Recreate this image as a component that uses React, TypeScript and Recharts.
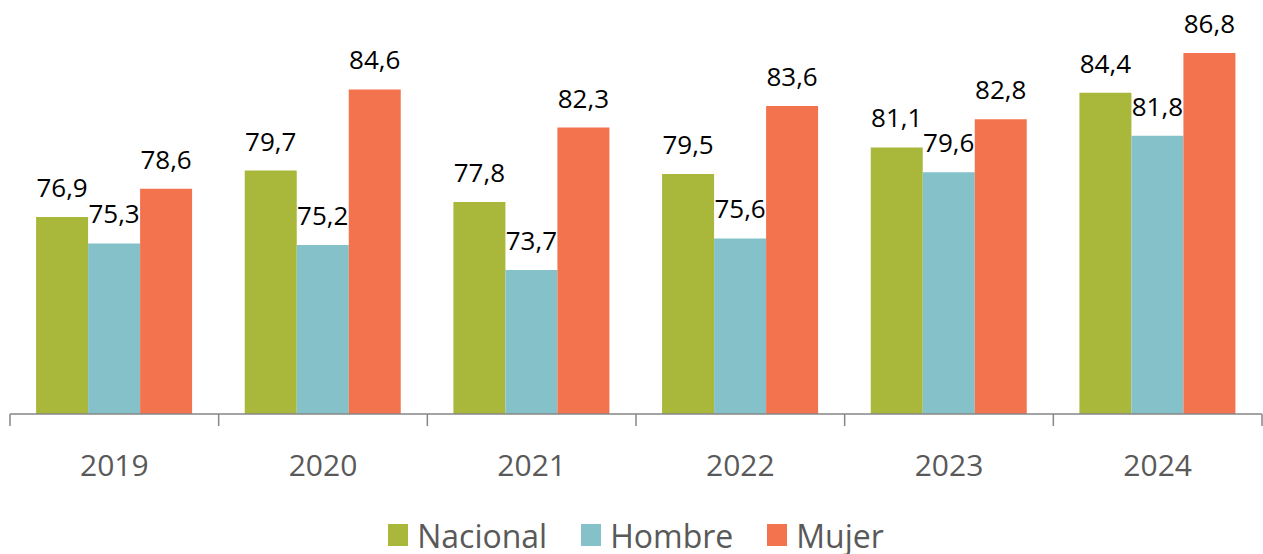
import React from "react";
import { BarChart, Bar, XAxis, YAxis, LabelList, Legend } from "recharts";

const years = ["2019", "2020", "2021", "2022", "2023", "2024"];
const nacional = [76.9, 79.7, 77.8, 79.5, 81.1, 84.4];
const hombre = [75.3, 75.2, 73.7, 75.6, 79.6, 81.8];
const mujer = [78.6, 84.6, 82.3, 83.6, 82.8, 86.8];

const series = [
  { key: "Nacional", values: nacional, color: "#A9B83A" },
  { key: "Hombre", values: hombre, color: "#84C1C8" },
  { key: "Mujer", values: mujer, color: "#F3734F" },
];

const data = years.map((year, i) => {
  const row: any = { year };
  series.forEach((s) => (row[s.key] = s.values[i]));
  return row;
});

const W = 1263;
const H = 554;
const M = { top: 0, right: 1, left: 10, bottom: 0 };
const band = (W - M.left - M.right) / years.length;
const FONT = "'Open Sans', sans-serif";

const fmt = (v: any) => Number(v).toFixed(1).replace(".", ",");

const YearTick = (props: any) => {
  const { x, y, payload, index } = props;
  const left = x - band / 2;
  const right = x + band / 2;
  return (
    <g>
      <line x1={left} x2={left} y1={y} y2={y + 12} stroke="#868686" strokeWidth={1.5} />
      {index === years.length - 1 && (
        <line x1={right} x2={right} y1={y} y2={y + 12} stroke="#868686" strokeWidth={1.5} />
      )}
      <text x={x} y={y + 62} textAnchor="middle" fill="#595959" fontSize={30} fontFamily={FONT}>
        {payload.value}
      </text>
    </g>
  );
};

const LegendBox = () => (
  <div
    style={{
      height: 60,
      display: "flex",
      justifyContent: "center",
      alignItems: "center",
      paddingTop: 22,
      boxSizing: "border-box",
      fontFamily: FONT,
      fontSize: 32,
      color: "#595959",
    }}
  >
    {series.map((s) => (
      <div key={s.key} style={{ display: "flex", alignItems: "center", margin: "0 17px" }}>
        <span style={{ width: 20, height: 22, background: s.color, display: "inline-block", marginRight: 9 }} />
        <span>{s.key}</span>
      </div>
    ))}
  </div>
);

export default function App() {
  return (
    <div style={{ position: "absolute", left: 0, top: 0, background: "#fff" }}>
      <BarChart width={W} height={H} data={data} margin={M} barCategoryGap="12.5%" barGap={0}>
        <XAxis
          dataKey="year"
          height={80}
          tickLine={false}
          tickSize={0}
          tickMargin={0}
          axisLine={{ stroke: "#868686", strokeWidth: 1.5 }}
          tick={<YearTick />}
          interval={0}
        />
        <YAxis hide domain={[65, 90]} />
        <Legend verticalAlign="bottom" height={60} content={<LegendBox />} />
        {series.map((s) => (
          <Bar key={s.key} dataKey={s.key} fill={s.color} isAnimationActive={false}>
            <LabelList
              dataKey={s.key}
              position="top"
              offset={20}
              formatter={fmt}
              fill="#000"
              fontSize={26}
              fontFamily={FONT}
            />
          </Bar>
        ))}
      </BarChart>
    </div>
  );
}
